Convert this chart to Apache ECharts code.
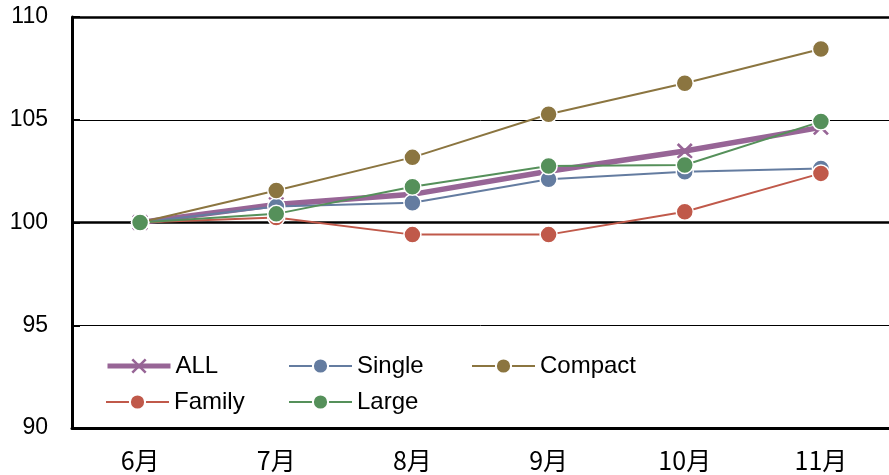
<!DOCTYPE html>
<html>
<head>
<meta charset="utf-8">
<script src="https://cdn.jsdelivr.net/npm/echarts@6/dist/echarts.min.js"></script>
<style>
  html, body { margin: 0; padding: 0; background: #fff; }
  #chart { width: 889px; height: 475px; }
</style>
</head>
<body>
<div id="chart"></div>
<script>
// Monthly index by segment (June = 100)
const months = ['6月', '7月', '8月', '9月', '10月', '11月'];
const allValues     = [100, 100.88, 101.37, 102.49, 103.48, 104.63];
const singleValues  = [100, 100.78, 100.96, 102.10, 102.47, 102.63];
const compactValues = [100, 101.56, 103.17, 105.27, 106.78, 108.44];
const familyValues  = [100, 100.24, 99.41, 99.41, 100.52, 102.39];
const largeValues   = [100, 100.42, 101.74, 102.75, 102.80, 104.91];
const yTicks = [90, 95, 100, 105, 110];

const colors = {
  ALL: '#976596',
  Single: '#647ca0',
  Compact: '#8b7540',
  Family: '#c0594a',
  Large: '#55905a'
};

const crossPath = 'path://M0,1.2L1.2,0L5,3.8L8.8,0L10,1.2L6.2,5L10,8.8L8.8,10L5,6.2L1.2,10L0,8.8L3.8,5Z';

function circleSeries(name, values) {
  return {
    name: name,
    type: 'line',
    data: values,
    symbol: 'circle',
    symbolSize: 17,
    lineStyle: { color: colors[name], width: 2 },
    itemStyle: { color: colors[name], borderColor: '#ffffff', borderWidth: 1.5 },
    emphasis: { disabled: true },
    z: 3
  };
}

const legendFont = { fontFamily: 'Liberation Sans', fontSize: 24, color: '#000' };
function legendAt(name, left, top, lineWidth) {
  return {
    data: [name],
    left: left,
    top: top,
    padding: 0,
    itemWidth: 63,
    itemHeight: 19,
    selectedMode: false,
    lineStyle: { width: lineWidth },
    textStyle: legendFont
  };
}

const chart = echarts.init(document.getElementById('chart'), null, { renderer: 'canvas' });
chart.setOption({
  animation: false,
  backgroundColor: '#ffffff',
  grid: { left: 72, top: 17, width: 822, height: 411, containLabel: false },
  legend: [
    legendAt('ALL', 105, 354, 5),
    legendAt('Single', 288, 354, 2),
    legendAt('Compact', 471, 354, 2),
    legendAt('Family', 105, 390, 2),
    legendAt('Large', 288, 390, 2)
  ],
  xAxis: {
    type: 'category',
    data: months,
    boundaryGap: true,
    axisLine: { lineStyle: { color: '#000', width: 3 } },
    axisTick: { show: false },
    axisLabel: {
      fontFamily: 'Noto Sans CJK JP',
      fontSize: 25,
      color: '#000',
      margin: 20
    },
    splitLine: { show: false }
  },
  yAxis: [
    {
      type: 'value',
      min: yTicks[0],
      max: yTicks[yTicks.length - 1],
      interval: yTicks[1] - yTicks[0],
      axisLine: { show: true, lineStyle: { color: '#000', width: 3 } },
      axisTick: { show: true, inside: true, length: 8, lineStyle: { color: '#000', width: 2 } },
      axisLabel: {
        fontFamily: 'Liberation Sans',
        fontSize: 23,
        color: '#000',
        margin: 24,
        padding: [12, 0, 0, 0]
      },
      splitLine: { show: true, lineStyle: { color: '#000', width: 1 } }
    },
    {
      // heavier rules at 90, 100 and 110
      type: 'value',
      min: yTicks[0],
      max: yTicks[yTicks.length - 1],
      interval: 10,
      position: 'left',
      axisLine: { show: false },
      axisTick: { show: false },
      axisLabel: { show: false },
      splitLine: { show: true, lineStyle: { color: '#000', width: 2.5 } }
    }
  ],
  series: [
    {
      name: 'ALL',
      type: 'line',
      data: allValues,
      symbol: crossPath,
      symbolSize: 16,
      lineStyle: { color: colors.ALL, width: 5.5 },
      itemStyle: { color: colors.ALL },
      emphasis: { disabled: true },
      z: 3
    },
    circleSeries('Single', singleValues),
    circleSeries('Compact', compactValues),
    circleSeries('Family', familyValues),
    circleSeries('Large', largeValues)
  ]
});
</script>
</body>
</html>
